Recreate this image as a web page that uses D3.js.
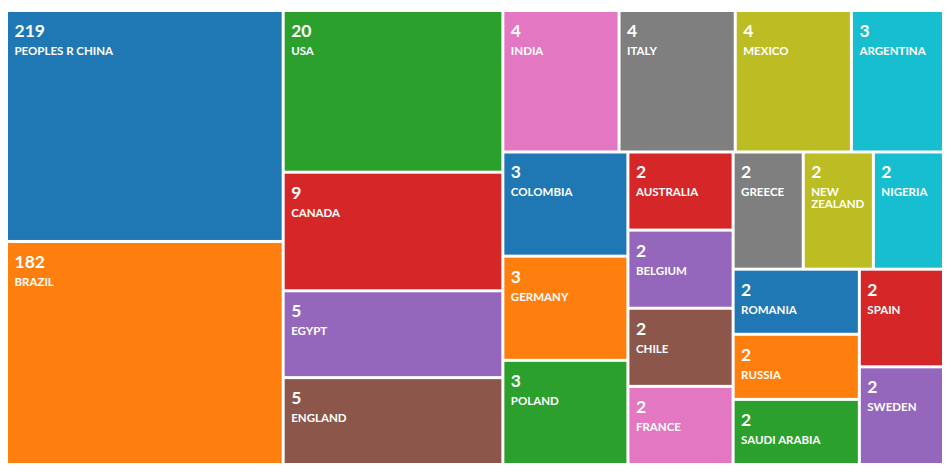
<!DOCTYPE html>
<html><head><meta charset="utf-8">
<script src="https://cdn.jsdelivr.net/npm/d3@7"></script>
<style>body{margin:0;background:#fff}svg{display:block}</style>
</head><body>
<svg id="chart" width="951" height="474"></svg>
<script>
const countries = ["PEOPLES R CHINA","BRAZIL","USA","CANADA","EGYPT","ENGLAND","INDIA","ITALY","MEXICO","ARGENTINA","COLOMBIA","GERMANY","POLAND","AUSTRALIA","BELGIUM","CHILE","FRANCE","GREECE","NEW ZEALAND","NIGERIA","ROMANIA","RUSSIA","SAUDI ARABIA","SPAIN","SWEDEN"];
const counts = [219,182,20,9,5,5,4,4,4,3,3,3,3,2,2,2,2,2,2,2,2,2,2,2,2];
const palette = d3.schemeCategory10;

const box = {x0: 8, y0: 12, x1: 942, y1: 463};
const gap = 3;
const svg = d3.select("#chart");

const data = {children: countries.map((c, i) => ({name: c, count: counts[i], idx: i}))};
const root = d3.hierarchy(data)
  .sum(d => d.count ? Math.log(d.count) : 0)
  .sort((a, b) => b.value - a.value || d3.ascending(a.data.name, b.data.name));

d3.treemap()
  .tile(d3.treemapSquarify)
  .size([box.x1 - box.x0 + gap, box.y1 - box.y0 + gap])
  .paddingInner(0)
  .round(false)(root);

const color = d3.scaleOrdinal().domain(d3.range(countries.length)).range(palette);

const g = svg.append("g").attr("transform", `translate(${box.x0},${box.y0})`);
const leaves = root.leaves();
const cell = g.selectAll("g.cell").data(leaves).join("g").attr("class", "cell")
  .attr("transform", d => `translate(${d.x0},${d.y0})`);

cell.append("rect")
  .attr("width", d => Math.max(0, d.x1 - d.x0 - gap))
  .attr("height", d => Math.max(0, d.y1 - d.y0 - gap))
  .attr("fill", d => color(d.data.idx));

cell.append("text")
  .attr("x", 6.5).attr("y", 25)
  .attr("fill", "#fff")
  .style("font-family", "Lato, 'Open Sans', sans-serif")
  .style("font-weight", "700")
  .style("font-size", "17.5px")
  .text(d => d.data.count);

const nameText = cell.append("text")
  .attr("x", 6.5).attr("y", 43)
  .attr("fill", "#fff")
  .style("font-family", "Lato, 'Open Sans', sans-serif")
  .style("font-weight", "700")
  .style("font-size", "11.5px");

nameText.each(function(d) {
  const t = d3.select(this);
  const maxW = d.x1 - d.x0 - gap - 12;
  const words = d.data.name.split(" ");
  let line = [];
  let tspan = t.append("tspan").attr("x", 6.5).attr("dy", 0);
  words.forEach(w => {
    line.push(w);
    tspan.text(line.join(" "));
    if (tspan.node().getComputedTextLength() > maxW && line.length > 1) {
      line.pop();
      tspan.text(line.join(" "));
      line = [w];
      tspan = t.append("tspan").attr("x", 6.5).attr("dy", 12).text(w);
    }
  });
});
</script>
</body></html>
